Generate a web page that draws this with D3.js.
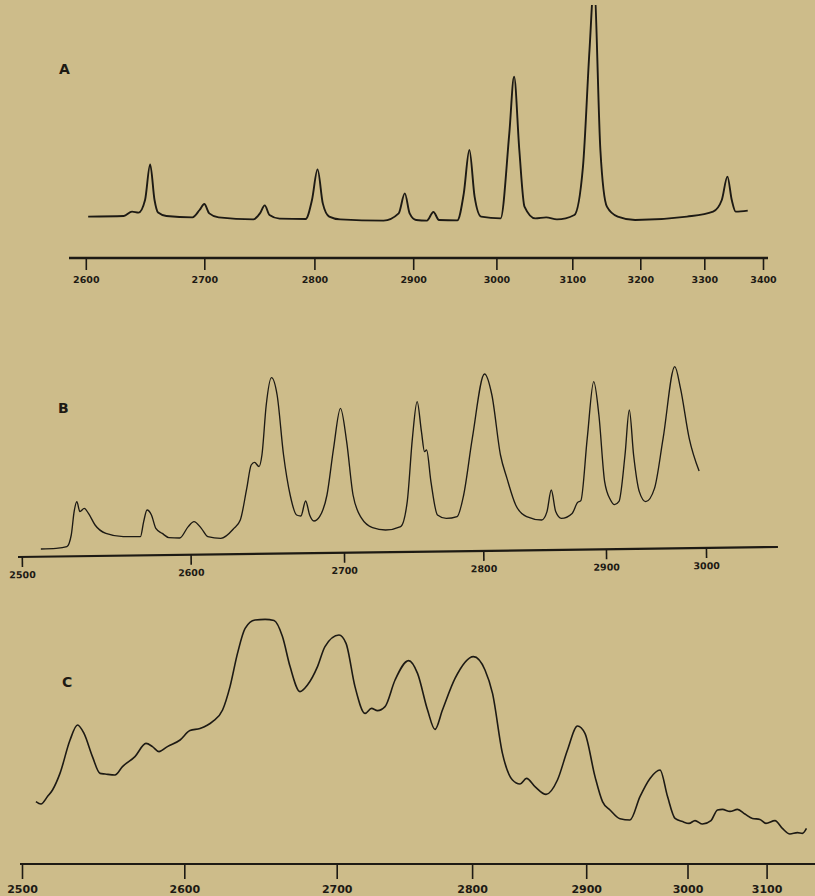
<!DOCTYPE html>
<html>
<head>
<meta charset="utf-8">
<script src="https://cdn.jsdelivr.net/npm/d3@7"></script>
<style>
  html, body { margin: 0; padding: 0; background: #cdbc8a; }
  svg { display: block; }
</style>
</head>
<body>
<div class="figDiv"></div>
<script>
'use strict';

// ---- data: wavenumber (cm-1) and relative intensity ----
const ticksA = [2600, 2700, 2800, 2900, 3000, 3100, 3200, 3300, 3400];
const waveA = [2602, 2632, 2639, 2644.5, 2650, 2654.3, 2658, 2661, 2668, 2690,
  2696, 2700, 2704.5, 2713, 2744.6, 2750.5, 2754.9, 2759.2, 2768.3, 2792,
  2797.8, 2803.2, 2808.5, 2815, 2826, 2870, 2885.3, 2891.5, 2896.4, 2903.5,
  2916.5, 2924.3, 2931, 2953, 2960.8, 2967.5, 2973.8, 2981.6, 3005.5, 3017,
  3023.3, 3030.2, 3037, 3051.3, 3065.6, 3079.8, 3103, 3115.7, 3125.3, 3131.9,
  3141.3, 3150.9, 3166.8, 3192.4, 3273, 3315, 3329.8, 3339.4, 3346.8, 3353.5, 3374];
const intA = [4.2, 4.5, 6.7, 6.2, 12.5, 30.3, 12.5, 6.2, 4.5, 3.8,
  7.5, 10.5, 5.8, 3.8, 2.8, 5.8, 9.8, 5, 3.2, 3.0,
  12.5, 27.8, 10.8, 4.2, 2.8, 2.2, 5.8, 15.8, 5.8, 2.5,
  2.2, 6.5, 2.5, 2.3, 15.8, 37.5, 14.2, 4.2, 3.3, 45.8,
  74.2, 37.5, 9.2, 3.3, 3.8, 2.8, 5, 29.2, 87.5, 120,
  37.5, 9.2, 4.2, 2.5, 4.2, 6.7, 12.5, 24.2, 12.5, 6.7, 7.2];

const ticksB = [2500, 2600, 2700, 2800, 2900, 3000];
const waveB = [2511.3, 2520.3, 2526.7, 2529.3, 2531, 2532.6, 2534.4, 2537, 2539.5, 2543.4,
  2549.8, 2560.1, 2570.3, 2572.2, 2574.2, 2576.8, 2579.4, 2583.2, 2587.1, 2593.5,
  2598.6, 2602.2, 2607, 2611.2, 2619.7, 2628.2, 2632.4, 2636.6, 2639.5, 2641.7,
  2644.6, 2646.5, 2649.3, 2652.7, 2656.4, 2660.6, 2664.9, 2669.1, 2671.9, 2675,
  2677.6, 2680.4, 2684.1, 2688.9, 2693.2, 2697.7, 2701.9, 2706.5, 2712.7, 2720.5,
  2729.8, 2740.7, 2745.4, 2749.1, 2752.5, 2755.6, 2757.8, 2759.3, 2762.4, 2767.1,
  2773.4, 2781.2, 2785.9, 2792.1, 2801, 2807, 2814, 2819.3, 2826.4, 2835.3,
  2847.6, 2851.9, 2855.4, 2859, 2863.6, 2872.4, 2876.7, 2879.5, 2884.7, 2890,
  2894.2, 2898.9, 2904.5, 2908.5, 2913, 2919, 2923.3, 2927.6, 2933.3, 2939.8,
  2948.5, 2957.1, 2968.8, 2974.5, 2983.2, 2993.1];
const intB = [4, 4.3, 5.2, 11, 22.7, 27.7, 22.7, 24.3, 21.8, 16,
  11.8, 10.2, 10.2, 17.7, 23.5, 21, 14.3, 11.8, 9.7, 9.5,
  15.2, 17.7, 14.3, 10.2, 9.3, 14.3, 18.5, 34.3, 46, 47.3,
  45.2, 51, 76, 89.7, 81, 51, 31, 21, 20.5, 28,
  21, 18, 20.2, 31, 54.3, 74.3, 57.7, 31, 19.3, 14.7,
  13.5, 15.2, 27.7, 59.3, 77.7, 62.7, 52.7, 53.5, 37.7, 21,
  19.3, 20.2, 31, 59.3, 91.5, 81, 51, 39.3, 26, 20.2,
  18.5, 22.7, 33.5, 22.7, 19.3, 21.8, 27.2, 28.2, 59.3, 87.7,
  71, 37.7, 28.5, 26.2, 27.8, 51, 73.5, 51, 32.7, 27.7,
  34.3, 59.3, 95.2, 84.3, 59.3, 43];

const ticksC = [2500, 2600, 2700, 2800, 2900, 3000, 3100];
const waveC = [2508.6, 2511.7, 2515.7, 2518.8, 2523.4, 2529.6, 2534.2, 2538.2, 2543.4, 2548.1,
  2551.2, 2557.3, 2561.9, 2569.6, 2576.4, 2580.4, 2584.4, 2589.6, 2597.4, 2603.7,
  2610.3, 2618.5, 2625.1, 2630, 2634.9, 2639.9, 2646.4, 2653, 2658.9, 2664.4,
  2669.4, 2675.9, 2680.8, 2687.4, 2692.3, 2701.7, 2706.9, 2713.5, 2720.9, 2725.7,
  2730.1, 2735.7, 2743.1, 2753.1, 2759.7, 2767.1, 2772.6, 2778.1, 2787.4, 2801.2,
  2811.3, 2817.9, 2826.6, 2835.4, 2842, 2847.7, 2855.1, 2864.8, 2874.8, 2883.6,
  2892.4, 2898.9, 2908.7, 2916.1, 2923.5, 2933.4, 2943.2, 2953.1, 2963, 2972.9,
  2980.3, 2987.7, 2995.1, 3001.9, 3009.5, 3019, 3029.7, 3037.9, 3044.2, 3053.7,
  3063.2, 3072.6, 3082.1, 3091.6, 3099.2, 3110.6, 3120, 3129.5, 3139, 3145.3, 3150.4];
const intC = [24.2, 23, 26.7, 30, 38.3, 55, 62.5, 58.3, 46.7, 38.3,
  38, 37.5, 41.7, 46.7, 53.3, 51.7, 49.2, 51.7, 55, 59.7,
  60.8, 64.2, 70, 81.7, 98.3, 110.8, 115, 115.3, 114.7, 106.7,
  91.7, 79.2, 82.5, 91.7, 101.7, 107.5, 103.3, 81.7, 68.3, 70.8,
  69.7, 71.7, 85, 94.7, 88.3, 70, 60.3, 70, 85.8, 96.7,
  90, 78.3, 48.3, 35, 33, 35.8, 31.7, 27.8, 35, 50,
  62, 58.3, 36.7, 24.2, 20, 15.6, 15.0, 26.7, 35.8, 40,
  26.7, 15.8, 14.2, 13.3, 14.7, 13, 14.7, 20, 20.3, 19.3,
  20.3, 18, 15.8, 15.3, 13.3, 14.7, 10.8, 8, 8.7, 8.3, 10.8];

// ---- layout (the chart paper is not linear in cm-1, so each axis is calibrated at its ticks) ----
const W = 815, H = 896;
const paper = '#cdbc8a', ink = '#1d1a14';

const panels = [
  { name: 'A', ticks: ticksA, wave: waveA, inten: intA,
    tickPx: [85.8, 204.3, 314.4, 413.2, 496.4, 572.3, 640.3, 704.3, 763],
    yDom: [0, 110], yPx: [225, 5], axisY: 258, axisX: [69, 768], tilt: 0,
    tickLen: 12, pad: 6.5, font: 9.5, axisW: 2.4, lineW: 1.9, clipTop: 5,
    label: [59, 74] },
  { name: 'B', ticks: ticksB, wave: waveB, inten: intB,
    tickPx: [21.8, 190.6, 344, 483.3, 606, 706],
    yDom: [0, 100], yPx: [557, 357], axisY: 557, axisX: [18, 778], tilt: -0.754,
    tickLen: 10, pad: 4.5, font: 9.5, axisW: 2.2, lineW: 1.35, clipTop: 0,
    label: [58, 413] },
  { name: 'C', ticks: ticksC, wave: waveC, inten: intC,
    tickPx: [22, 184.3, 336.7, 472.1, 586.2, 687.5, 766.6],
    yDom: [0, 120], yPx: [850, 610], axisY: 864, axisX: [20, 815], tilt: 0,
    tickLen: 15, pad: 6, font: 11, axisW: 2.2, lineW: 1.6, clipTop: 600,
    label: [62, 687] }
];

const svg = d3.select('.figDiv').append('svg')
  .attr('width', W)
  .attr('height', H)
  .style('background', paper);

svg.append('rect')
  .attr('width', W)
  .attr('height', H)
  .attr('fill', paper);

function drawPanel(p) {
  const x = d3.scaleLinear().domain(p.ticks).range(p.tickPx);
  const y = d3.scaleLinear().domain(p.yDom).range(p.yPx);
  const pts = p.wave.map((w, k) => ({ w: w, v: p.inten[k] }));

  const clipId = 'clip' + p.name;
  svg.append('clipPath').attr('id', clipId)
    .append('rect')
    .attr('x', 0).attr('y', p.clipTop)
    .attr('width', W).attr('height', p.axisY - p.clipTop);

  const line = d3.line()
    .x(d => x(d.w))
    .y(d => y(d.v))
    .curve(d3.curveMonotoneX);

  svg.append('path')
    .datum(pts)
    .attr('clip-path', `url(#${clipId})`)
    .attr('d', line)
    .attr('fill', 'none')
    .attr('stroke', ink)
    .attr('stroke-width', p.lineW)
    .attr('stroke-linejoin', 'round');

  // axis (B's chart paper sits slightly askew)
  const g = svg.append('g')
    .attr('transform', `rotate(${p.tilt}, ${p.axisX[0]}, ${p.axisY}) translate(0,${p.axisY})`);

  const ax = d3.axisBottom(x)
    .tickValues(p.ticks)
    .tickSize(p.tickLen)
    .tickPadding(p.pad)
    .tickFormat(d3.format('d'));
  g.call(ax);
  g.select('.domain').remove();
  g.selectAll('.tick line')
    .attr('stroke', ink)
    .attr('stroke-width', 1.6);
  g.selectAll('.tick text')
    .attr('fill', ink)
    .style('font-family', '"DejaVu Sans", sans-serif')
    .style('font-weight', 'bold')
    .style('font-size', p.font + 'px');

  g.append('line')
    .attr('x1', p.axisX[0])
    .attr('x2', p.axisX[1])
    .attr('stroke', ink)
    .attr('stroke-width', p.axisW);

  svg.append('text')
    .attr('x', p.label[0])
    .attr('y', p.label[1])
    .attr('fill', ink)
    .style('font-family', '"DejaVu Sans", sans-serif')
    .style('font-weight', 'bold')
    .style('font-size', '14px')
    .text(p.name);
}

panels.forEach(drawPanel);
</script>
</body>
</html>
